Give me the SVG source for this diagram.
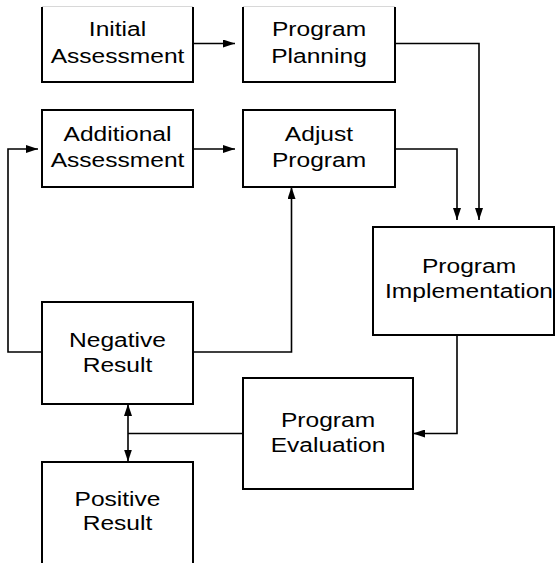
<svg xmlns="http://www.w3.org/2000/svg" width="555" height="563" viewBox="0 0 555 563">
  <style>
    .box { fill: #fff; stroke: #000; stroke-width: 2; }
    .edge { fill: none; stroke: #000; stroke-width: 2; }
    .faint { fill: none; stroke: #d8d8d8; stroke-width: 1; }
    .lbl { font-family: "Liberation Sans", Arial, Helvetica, sans-serif; font-size: 21px; fill: #000; text-anchor: middle; }
    .wire { fill: none; stroke: #000; stroke-width: 1.6; }
  </style>
  <defs>
    <marker id="arrow" markerUnits="userSpaceOnUse" markerWidth="12" markerHeight="8" refX="12" refY="4" orient="auto-start-reverse">
      <path d="M0,0 L12,4 L0,8 z" fill="#000"/>
    </marker>
  </defs>
  <rect width="555" height="563" fill="#fff"/>

  <!-- connectors -->
  <g id="connectors">
    <path class="wire" d="M193,43.5 H235" marker-end="url(#arrow)"/>
    <path class="wire" d="M193,149 H235" marker-end="url(#arrow)"/>
    <path class="wire" d="M395,43.5 H479 V220" marker-end="url(#arrow)"/>
    <path class="wire" d="M395,149 H457 V220" marker-end="url(#arrow)"/>
    <path class="wire" d="M457,335 V433.5 H413" marker-end="url(#arrow)"/>
    <path class="wire" d="M193,352 H291.5 V187" marker-end="url(#arrow)"/>
    <path class="wire" d="M42,352 H8 V149 H38" marker-end="url(#arrow)"/>
    <path class="wire" d="M243,433.5 H128"/>
    <path class="wire" d="M128,404 V461.5" marker-start="url(#arrow)" marker-end="url(#arrow)"/>
  </g>

  <!-- nodes (top row is clipped at the upper edge, so its top border is faint) -->
  <g id="initial-assessment">
    <path class="faint" d="M42,6.5 H193"/>
    <path class="edge" d="M42,7 V82 H193 V7"/>
    <text class="lbl" transform="matrix(1.17 0 0 1 117.5 0)" x="0" y="36">Initial</text>
    <text class="lbl" transform="matrix(1.17 0 0 1 117.5 0)" x="0" y="63">Assessment</text>
  </g>
  <g id="program-planning">
    <path class="faint" d="M243,6.5 H395"/>
    <path class="edge" d="M243,7 V82 H395 V7"/>
    <text class="lbl" transform="matrix(1.17 0 0 1 319 0)" x="0" y="36">Program</text>
    <text class="lbl" transform="matrix(1.17 0 0 1 319 0)" x="0" y="63">Planning</text>
  </g>
  <g id="additional-assessment">
    <rect class="box" x="42" y="110" width="151" height="77"/>
    <text class="lbl" transform="matrix(1.17 0 0 1 117.5 0)" x="0" y="141">Additional</text>
    <text class="lbl" transform="matrix(1.17 0 0 1 117.5 0)" x="0" y="167">Assessment</text>
  </g>
  <g id="adjust-program">
    <rect class="box" x="243" y="110" width="152" height="77"/>
    <text class="lbl" transform="matrix(1.17 0 0 1 319 0)" x="0" y="141">Adjust</text>
    <text class="lbl" transform="matrix(1.17 0 0 1 319 0)" x="0" y="167">Program</text>
  </g>
  <g id="program-implementation">
    <rect class="box" x="373" y="227" width="181" height="108"/>
    <text class="lbl" transform="matrix(1.17 0 0 1 469 0)" x="0" y="273">Program</text>
    <text class="lbl" transform="matrix(1.17 0 0 1 469 0)" x="0" y="298">Implementation</text>
  </g>
  <g id="negative-result">
    <rect class="box" x="42" y="302" width="151" height="102"/>
    <text class="lbl" transform="matrix(1.17 0 0 1 117.5 0)" x="0" y="347">Negative</text>
    <text class="lbl" transform="matrix(1.17 0 0 1 117.5 0)" x="0" y="372">Result</text>
  </g>
  <g id="program-evaluation">
    <rect class="box" x="243" y="378" width="170" height="111"/>
    <text class="lbl" transform="matrix(1.17 0 0 1 328 0)" x="0" y="427">Program</text>
    <text class="lbl" transform="matrix(1.17 0 0 1 328 0)" x="0" y="452">Evaluation</text>
  </g>
  <g id="positive-result">
    <rect class="box" x="42" y="462" width="151" height="112"/>
    <text class="lbl" transform="matrix(1.17 0 0 1 117.5 0)" x="0" y="506">Positive</text>
    <text class="lbl" transform="matrix(1.17 0 0 1 117.5 0)" x="0" y="530">Result</text>
  </g>
</svg>
